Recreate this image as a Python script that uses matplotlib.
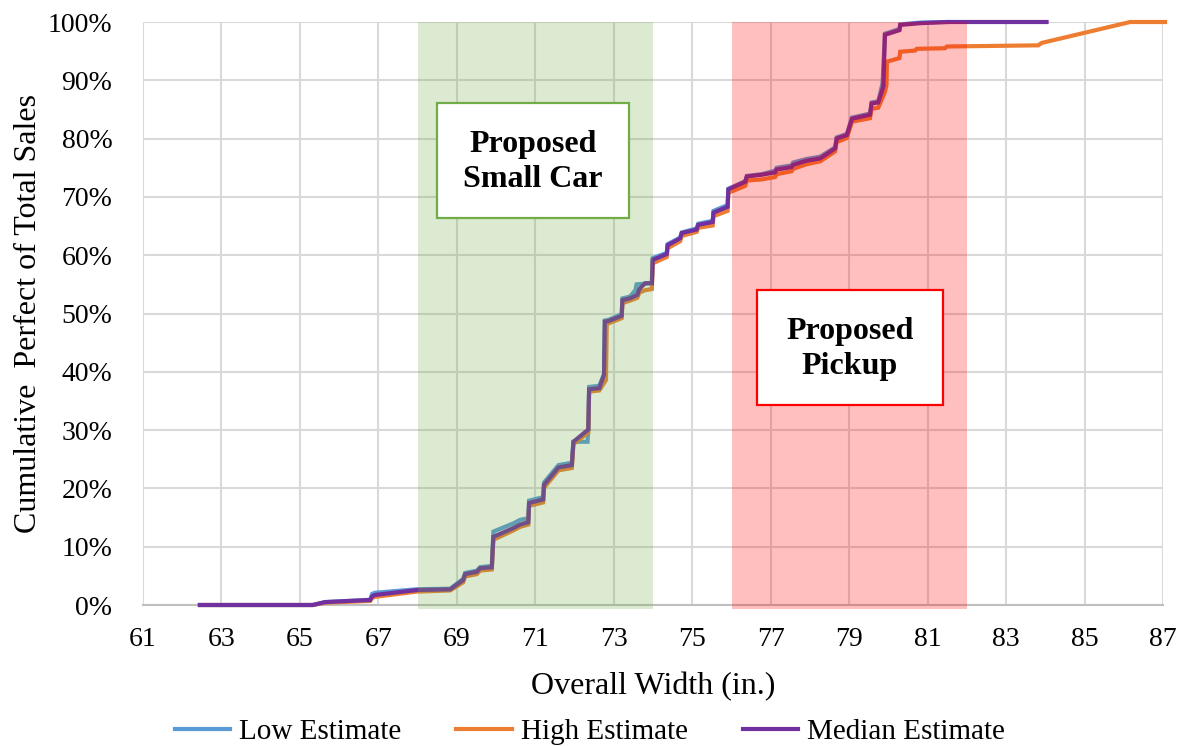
import numpy as np
import matplotlib
matplotlib.use("Agg")
import matplotlib.pyplot as plt
from matplotlib.patches import Rectangle
from matplotlib.ticker import FuncFormatter

plt.rcParams['font.family'] = ['Liberation Serif', 'DejaVu Serif']

# cumulative share of sales vs overall width (in.)
median_x = [62.45, 65.33, 65.64, 66.79, 66.84, 66.91, 67.98, 68.83, 69.16, 69.21,
            69.51, 69.59, 69.89, 69.93, 70.44, 70.61, 70.82, 70.84, 71.20, 71.22,
            71.59, 71.93, 71.97, 72.35, 72.37, 72.63, 72.75, 72.77, 72.86, 73.20,
            73.22, 73.41, 73.60, 73.65, 73.80, 73.97, 73.99, 74.35, 74.37, 74.69,
            74.73, 75.11, 75.15, 75.52, 75.54, 75.90, 75.92, 76.35, 76.39, 76.77,
            77.11, 77.15, 77.53, 77.57, 77.91, 78.26, 78.64, 78.68, 78.94, 79.07,
            79.53, 79.57, 79.74, 79.87, 79.91, 80.28, 80.30, 80.81, 81.50, 84.03]
median_y = [0.0, 0.0, 0.5, 0.86, 1.5, 1.72, 2.57, 2.69, 4.29, 5.3,
            5.7, 6.3, 6.47, 11.7, 13.2, 13.8, 14.2, 17.5, 18.1, 20.6,
            23.6, 24.0, 28.0, 30.1, 37.0, 37.2, 39.5, 48.6, 48.7, 49.6,
            52.3, 52.6, 53.2, 54.2, 55.2, 55.2, 59.2, 60.2, 61.7, 62.9,
            63.8, 64.4, 65.2, 65.7, 67.3, 68.3, 71.3, 72.6, 73.5, 73.8,
            74.2, 74.7, 75.1, 75.5, 76.2, 76.6, 78.3, 80.0, 80.6, 83.4,
            84.1, 86.0, 86.2, 88.9, 97.8, 98.6, 99.5, 99.8, 100.0, 100.0]

low_x = [62.45, 65.33, 65.64, 66.79, 66.84, 66.91, 67.98, 68.83, 69.16, 69.21,
         69.51, 69.59, 69.89, 69.93, 70.44, 70.61, 70.82, 70.84, 71.20, 71.22,
         71.59, 71.93, 71.97, 72.33, 72.35, 72.37, 72.63, 72.75, 72.77, 72.86,
         73.20, 73.22, 73.41, 73.55, 73.58, 73.97, 73.99, 74.35, 74.37, 74.69,
         74.73, 75.11, 75.15, 75.52, 75.54, 75.90, 75.92, 76.35, 76.39, 76.77,
         77.11, 77.15, 77.53, 77.57, 77.91, 78.26, 78.64, 78.68, 78.94, 79.07,
         79.53, 79.57, 79.74, 79.85, 79.91, 80.28, 80.30, 80.81, 81.50]
low_y = [0.0, 0.0, 0.5, 0.9, 1.9, 2.1, 2.7, 2.8, 4.5, 5.5,
         5.9, 6.5, 6.7, 12.6, 14.0, 14.6, 14.9, 17.9, 18.5, 21.0,
         24.0, 24.4, 28.0, 28.0, 30.1, 37.4, 37.6, 39.6, 48.8, 48.9,
         49.9, 52.6, 52.9, 54.0, 55.0, 55.2, 59.5, 60.4, 61.9, 63.0,
         63.9, 64.6, 65.4, 65.9, 67.6, 68.6, 71.4, 72.7, 73.6, 73.9,
         74.5, 75.0, 75.4, 75.9, 76.5, 76.9, 78.5, 80.2, 80.8, 83.6,
         84.3, 86.2, 86.4, 89.5, 98.0, 98.8, 99.6, 99.9, 100.0]

high_x = [62.45, 65.33, 65.64, 66.79, 66.84, 66.91, 67.98, 68.83, 69.16, 69.21,
          69.51, 69.59, 69.89, 69.93, 70.44, 70.61, 70.82, 70.84, 71.20, 71.22,
          71.59, 71.93, 71.97, 72.35, 72.37, 72.63, 72.80, 72.82, 72.86, 73.20,
          73.22, 73.41, 73.60, 73.65, 73.80, 73.97, 73.99, 74.35, 74.37, 74.69,
          74.73, 75.11, 75.15, 75.52, 75.54, 75.90, 75.92, 76.35, 76.39, 76.77,
          77.11, 77.15, 77.53, 77.57, 77.91, 78.26, 78.64, 78.68, 78.94, 79.07,
          79.53, 79.57, 79.74, 79.91, 79.95, 79.96, 80.28, 80.30, 80.68, 80.72,
          81.44, 81.49, 83.82, 83.90, 86.16, 87.05]
high_y = [0.0, 0.0, 0.4, 0.7, 1.2, 1.4, 2.3, 2.5, 3.9, 4.9,
          5.3, 5.9, 6.1, 11.2, 12.8, 13.4, 13.8, 17.0, 17.6, 20.1,
          23.1, 23.5, 27.6, 29.6, 36.6, 36.8, 38.6, 48.3, 48.3, 49.2,
          51.8, 52.2, 52.7, 53.6, 54.0, 54.2, 58.6, 59.7, 61.2, 62.4,
          63.3, 64.0, 64.7, 65.1, 66.7, 67.6, 70.7, 71.9, 72.8, 73.0,
          73.4, 73.9, 74.4, 74.8, 75.6, 76.1, 77.8, 79.4, 80.1, 82.9,
          83.5, 85.1, 85.3, 88.0, 89.2, 93.2, 93.8, 94.9, 95.1, 95.4,
          95.5, 95.8, 96.0, 96.4, 100.0, 100.0]

small_car_range = (68, 74)
pickup_range = (76, 82)

fig = plt.figure(figsize=(11.82, 7.46), dpi=100)
ax = fig.add_axes([0.121, 0.189, 0.863, 0.7815])

line_kw = dict(lw=3.0, zorder=2.6, clip_on=False, solid_joinstyle='miter')
ax.plot(low_x, low_y, color='#5B9BD5', label='Low Estimate', **line_kw)
ax.plot(high_x, high_y, color='#ED7D31', label='High Estimate', **line_kw)
ax.plot(median_x, median_y, color='#7030A0', label='Median Estimate', **line_kw)

# shaded size classes sit on top of the curves
ax.axvspan(*small_car_range, ymin=-0.006, ymax=1, color='#70AD47', alpha=0.25,
           lw=0, zorder=3, clip_on=False)
ax.axvspan(*pickup_range, ymin=-0.006, ymax=1, color='#FF0000', alpha=0.25,
           lw=0, zorder=3, clip_on=False)

# label boxes
box_font = dict(ha='center', va='center', fontsize=23, fontweight='bold',
                linespacing=1.25, zorder=6)
ax.add_patch(Rectangle((68.49, 66.4), 4.9, 19.7, facecolor='white',
                       edgecolor='#70AD47', lw=1.6, zorder=5))
ax.text(70.94, 76.0, 'Proposed\nSmall Car', **box_font)
ax.add_patch(Rectangle((76.65, 34.3), 4.74, 19.7, facecolor='white',
                       edgecolor='#FF0000', lw=1.6, zorder=5))
ax.text(79.02, 43.9, 'Proposed\nPickup', **box_font)

ax.set_xlim(61, 87)
ax.set_ylim(0, 100)
ax.set_xticks(np.arange(61, 88, 2))
ax.set_yticks(np.arange(0, 101, 10))
ax.yaxis.set_major_formatter(FuncFormatter(lambda v, p: f'{v:.0f}%'))
ax.grid(True, color='#D9D9D9', lw=1.5, zorder=0)
ax.set_axisbelow(True)
for side in ['top', 'right', 'left']:
    ax.spines[side].set_visible(False)
ax.spines['bottom'].set_color('#BFBFBF')
ax.spines['bottom'].set_linewidth(1.5)
ax.spines['bottom'].set_zorder(1.5)
ax.tick_params(axis='both', length=0, labelsize=20)
ax.tick_params(axis='x', pad=16)
ax.tick_params(axis='y', pad=22)

fig.text(0.5525, 0.079, 'Overall Width (in.)', ha='center', va='center', fontsize=23)
fig.text(0.024, 0.58, 'Cumulative  Perfect of Total Sales', ha='center', va='center',
         rotation=90, fontsize=23)

fig.legend(loc='center', bbox_to_anchor=(0.499, 0.019), ncol=3, frameon=False,
           fontsize=21, handlelength=1.9, handletextpad=0.3, columnspacing=1.9)

fig.savefig('out.png', dpi=100)
